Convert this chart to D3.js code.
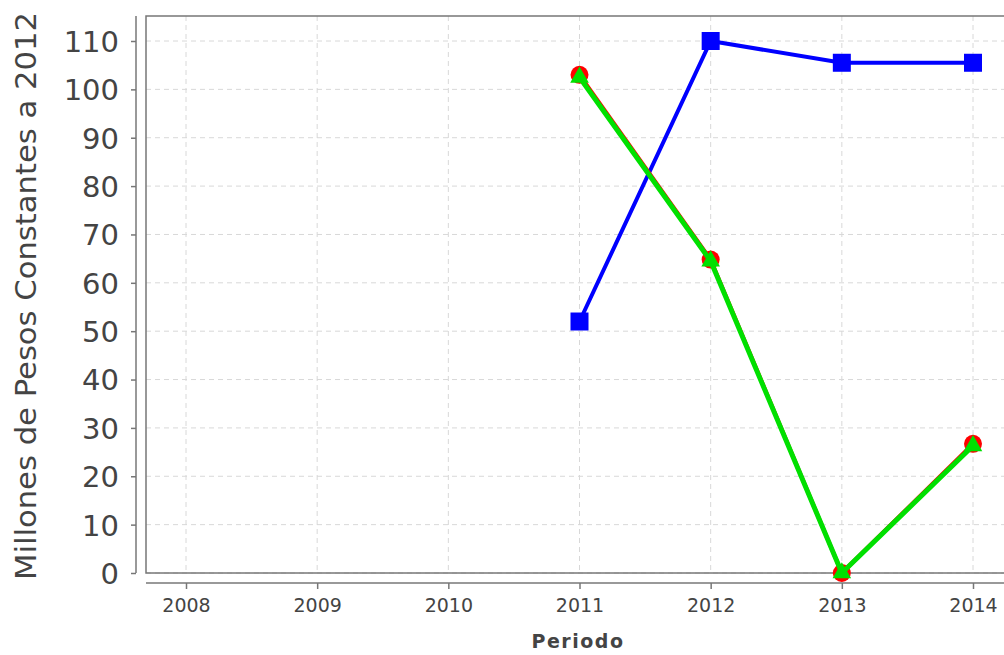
<!DOCTYPE html>
<html>
<head>
<meta charset="utf-8">
<script src="https://cdn.jsdelivr.net/npm/d3@7"></script>
<style>
body { margin: 0; background: #fff; }
text { font-family: "DejaVu Sans", sans-serif; fill: #444; }
</style>
</head>
<body>
<svg width="1004" height="655"></svg>
<script>
var years = ['2008', '2009', '2010', '2011', '2012', '2013', '2014'];
var yTicks = [0, 10, 20, 30, 40, 50, 60, 70, 80, 90, 100, 110];
// series values by year (null = no data)
var blueVals = [null, null, null, 52, 110, 105.5, 105.5];
var redVals = [null, null, null, 103, 64.8, 0, 26.7];
var greenVals = [null, null, null, 102.5, 64.5, 0, 26.3];

var svg = d3.select('svg');

var scaleX = d3.scalePoint().domain(years).range([186, 973]);
var scaleY = d3.scaleLinear().domain([0, 110]).range([573, 41]);

// plot background + grid
var plotL = 146, plotT = 16, plotR = 1010, plotB = 573;

svg.append('g').selectAll('line')
    .data(yTicks)
    .enter()
    .append('line')
    .attr('x1', plotL).attr('x2', plotR)
    .attr('y1', function(d){ return scaleY(d) })
    .attr('y2', function(d){ return scaleY(d) })
    .attr('stroke', '#d8d8d8')
    .attr('stroke-dasharray', '5,4');

svg.append('g').selectAll('line')
    .data(years)
    .enter()
    .append('line')
    .attr('x1', function(d){ return scaleX(d) })
    .attr('x2', function(d){ return scaleX(d) })
    .attr('y1', plotT).attr('y2', plotB)
    .attr('stroke', '#d8d8d8')
    .attr('stroke-dasharray', '5,4');

svg.append('rect')
    .attr('x', plotL).attr('y', plotT)
    .attr('width', plotR - plotL).attr('height', plotB - plotT)
    .attr('fill', 'none')
    .attr('stroke', '#777')
    .attr('stroke-width', 1.5);

// axes
var yAxis = svg.append('g')
    .attr('transform', 'translate(136,0)')
    .call(d3.axisLeft(scaleY).tickValues(yTicks).tickSize(5).tickPadding(12));
yAxis.selectAll('text').attr('font-size', 29).attr('fill', '#444').attr('dy', '0.36em');
yAxis.selectAll('line, path').attr('stroke', '#777').attr('stroke-width', 1.5);
yAxis.select('path').attr('d', 'M0,16V573');

var xAxis = svg.append('g')
    .attr('transform', 'translate(0,583)')
    .call(d3.axisBottom(scaleX).tickSize(6).tickPadding(10));
xAxis.selectAll('text').attr('font-size', 19).attr('fill', '#444');
xAxis.selectAll('line, path').attr('stroke', '#777').attr('stroke-width', 1.5);
xAxis.select('path').attr('d', 'M146,0H1010');

svg.append('text')
    .attr('x', 578)
    .attr('y', 648)
    .attr('text-anchor', 'middle')
    .attr('font-size', 19)
    .attr('font-weight', 'bold')
    .attr('fill', '#444')
    .attr('letter-spacing', 1.5)
    .text('Periodo');

svg.append('text')
    .attr('transform', 'translate(36,296) rotate(-90)')
    .attr('text-anchor', 'middle')
    .attr('font-size', 29)
    .attr('fill', '#444')
    .attr('textLength', 568)
    .attr('lengthAdjust', 'spacingAndGlyphs')
    .text('Millones de Pesos Constantes a 2012');

function pts(vals) {
    return years.map(function(y, i){ return {x: y, v: vals[i]} })
        .filter(function(d){ return d.v !== null });
}

var line = d3.line()
    .x(function(d){ return scaleX(d.x) })
    .y(function(d){ return scaleY(d.v) });

// blue series
svg.append('path')
    .datum(pts(blueVals))
    .attr('d', line)
    .attr('fill', 'none')
    .attr('stroke', '#0000ff')
    .attr('stroke-width', 4);
svg.append('g').selectAll('rect')
    .data(pts(blueVals))
    .enter()
    .append('rect')
    .attr('x', function(d){ return scaleX(d.x) - 9 })
    .attr('y', function(d){ return scaleY(d.v) - 9 })
    .attr('width', 18).attr('height', 18)
    .attr('fill', '#0000ff');

// red series
svg.append('path')
    .datum(pts(redVals))
    .attr('d', line)
    .attr('fill', 'none')
    .attr('stroke', '#ff0000')
    .attr('stroke-width', 4);
svg.append('g').selectAll('circle')
    .data(pts(redVals))
    .enter()
    .append('circle')
    .attr('cx', function(d){ return scaleX(d.x) })
    .attr('cy', function(d){ return scaleY(d.v) })
    .attr('r', 9)
    .attr('fill', '#ff0000');

// green series
svg.append('path')
    .datum(pts(greenVals))
    .attr('d', line)
    .attr('fill', 'none')
    .attr('stroke', '#00e000')
    .attr('stroke-width', 5);
svg.append('g').selectAll('path')
    .data(pts(greenVals))
    .enter()
    .append('path')
    .attr('d', d3.symbol().type(d3.symbolTriangle).size(150))
    .attr('transform', function(d){ return 'translate(' + scaleX(d.x) + ',' + scaleY(d.v) + ')' })
    .attr('fill', '#00e000');
</script>
</body>
</html>
